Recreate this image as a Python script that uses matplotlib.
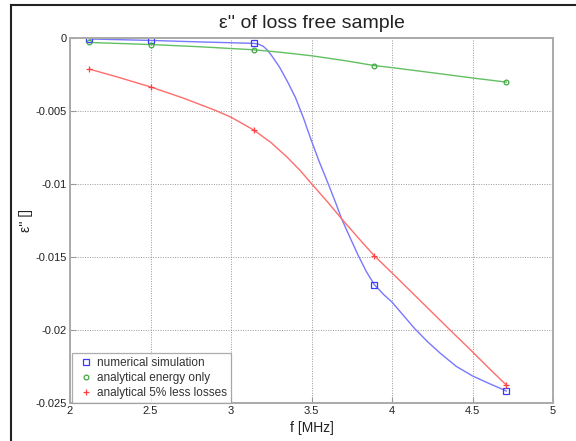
import matplotlib
matplotlib.use("Agg")
import matplotlib.pyplot as plt
from matplotlib.lines import Line2D

plt.rcParams["font.family"] = ["Liberation Sans", "DejaVu Sans"]

# measured points
freq = [2.12, 2.5, 3.14, 3.89, 4.71]
eps_numerical = [-0.0001, -0.0002, -0.0004, -0.0169, -0.02418]
eps_energy = [-0.00034, -0.00048, -0.00084, -0.00192, -0.00305]
eps_less_losses = [-0.00216, -0.00338, -0.00632, -0.01493, -0.02377]

# smooth curves
curve_num_f = [2.12, 2.5, 2.8, 3.14, 3.17, 3.2, 3.225, 3.25, 3.275, 3.3, 3.325,
               3.35, 3.375, 3.4, 3.425, 3.45, 3.475, 3.5, 3.55, 3.6, 3.65,
               3.687, 3.74, 3.79, 3.84, 3.89, 3.95, 4.0, 4.07, 4.14, 4.22,
               4.3, 4.4, 4.5, 4.6, 4.71]
curve_num_eps = [-0.0001, -0.0002, -0.0003, -0.0004, -0.00045, -0.0006,
                 -0.00085, -0.0012, -0.0016, -0.002, -0.0025, -0.003,
                 -0.00355, -0.0041, -0.0048, -0.0055, -0.0063, -0.00707,
                 -0.00855, -0.0099, -0.0113, -0.0124, -0.0137, -0.0149,
                 -0.016, -0.0169, -0.0176, -0.0181, -0.019, -0.0199, -0.0208,
                 -0.0216, -0.0225, -0.02315, -0.02365, -0.02418]

curve_en_f = [2.12, 2.5, 2.8, 3.14, 3.3, 3.5, 3.7, 3.89, 4.0, 4.3, 4.5, 4.71]
curve_en_eps = [-0.00034, -0.00048, -0.00063, -0.00084, -0.001, -0.00125,
                -0.00157, -0.00192, -0.00206, -0.00248, -0.00277, -0.00305]

curve_ll_f = [2.12, 2.3, 2.5, 2.7, 2.9, 3.0, 3.14, 3.25, 3.35, 3.43, 3.5, 3.6,
              3.687, 3.79, 3.89, 4.0, 4.12, 4.24, 4.36, 4.5, 4.6, 4.71]
curve_ll_eps = [-0.00216, -0.00272, -0.00338, -0.00413, -0.00497, -0.00545,
                -0.00632, -0.0072, -0.0082, -0.0091, -0.01, -0.01125, -0.0124,
                -0.0137, -0.01493, -0.0161, -0.0174, -0.0187, -0.02, -0.0215,
                -0.0226, -0.02377]

xticks = [2, 2.5, 3, 3.5, 4, 4.5, 5]
yticks = [0, -0.005, -0.01, -0.015, -0.02, -0.025]

fig = plt.figure(figsize=(5.76, 4.41), dpi=100)
ax = fig.add_axes([70 / 576, 38 / 441, 483 / 576, 365.5 / 441])

ax.plot(curve_num_f, curve_num_eps, color="#7878ff", lw=1.0)
ax.plot(curve_en_f, curve_en_eps, color="#62c062", lw=1.0)
ax.plot(curve_ll_f, curve_ll_eps, color="#ff6c6c", lw=1.0)

ax.plot(freq, eps_numerical, "s", ms=3.8, mfc="none", mec="#3a3aff", mew=0.9,
        label="numerical simulation")
ax.plot(freq, eps_energy, "o", ms=3.4, mfc="none", mec="#40a840", mew=0.9,
        label="analytical energy only")
ax.plot(freq, eps_less_losses, "+", ms=4, mec="#ff4040", mew=0.9,
        label="analytical 5% less losses")

ax.set_xlim(2, 5)
ax.set_ylim(-0.025, 0)
ax.set_xticks(xticks)
ax.set_xticklabels(["2", "2.5", "3", "3.5", "4", "4.5", "5"])
ax.set_yticks(yticks)
ax.set_yticklabels(["0", "-0.005", "-0.01", "-0.015", "-0.02", "-0.025"])
ax.tick_params(direction="in", length=4, color="#999999", labelsize=8,
               labelcolor="#222222", pad=2)
ax.grid(True, linestyle=(0, (1, 1.5)), color="#999999", linewidth=0.7)
for sp in ax.spines.values():
    sp.set_color("#aaaaaa")
    sp.set_linewidth(1.4)

ax.set_title("\u03b5'' of loss free sample", fontsize=14, color="#222222", pad=7)
ax.set_xlabel("f [MHz]", fontsize=10, color="#222222", labelpad=4)
ax.set_ylabel("\u03b5'' []", fontsize=10, color="#222222")
ax.yaxis.set_label_coords(-0.076, 0.5)

leg = ax.legend(loc="lower left", bbox_to_anchor=(0.004, 0), fontsize=8.5,
                frameon=True, fancybox=False, borderpad=0.35,
                handletextpad=0.2, labelspacing=0.25, handlelength=1.6,
                borderaxespad=0)
leg.get_frame().set_edgecolor("#999999")
leg.get_frame().set_linewidth(0.9)
for t in leg.get_texts():
    t.set_color("#333333")

# screenshot frame on left and top
fig.add_artist(Line2D([11 / 576, 11 / 576], [0, 1 - 5 / 441], color="#222222", lw=1.5))
fig.add_artist(Line2D([11 / 576, 1], [1 - 5 / 441, 1 - 5 / 441], color="#222222", lw=1.5))

fig.savefig("out.png", dpi=100)
